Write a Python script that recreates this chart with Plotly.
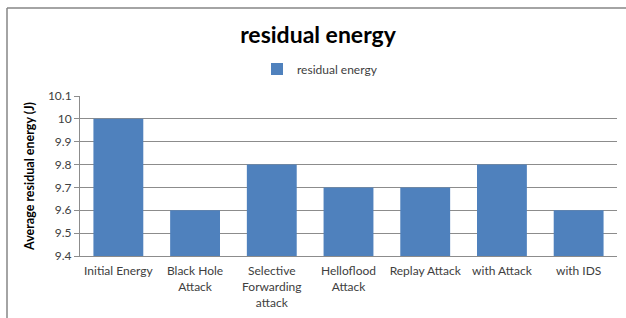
import plotly.graph_objects as go

categories = ["Initial Energy", "Black Hole<br>Attack", "Selective<br>Forwarding<br>attack",
              "Helloflood<br>Attack", "Replay Attack", "with Attack", "with IDS"]
values = [10.0, 9.6, 9.8, 9.7, 9.7, 9.8, 9.6]
series_name = "residual energy"
y_tickvals = [9.4, 9.5, 9.6, 9.7, 9.8, 9.9, 10.0, 10.1]
y_ticktext = ["9.4", "9.5", "9.6", "9.7", "9.8", "9.9", "10", "10.1"]

FONT = "Lato, 'Open Sans', sans-serif"
BAR = "#4F81BD"
GRID = "#8C8C8C"

fig = go.Figure()
fig.add_trace(go.Bar(x=categories, y=values, name=series_name,
                     marker=dict(color=BAR, line=dict(width=0)),
                     showlegend=True))

# plot area: left 80, right 617, top 96, bottom 256 (pixels)
W, H = 626, 318
L, R, T, B = 80, 617, 96, 256
pw, ph = R - L, B - T

def px(x):
    return (x - L) / pw

def py(y):
    return (B - y) / ph

fig.update_layout(
    width=W, height=H,
    margin=dict(l=L, r=W - R, t=T, b=H - B, pad=0, autoexpand=False),
    paper_bgcolor="white", plot_bgcolor="white",
    font=dict(family=FONT, size=12, color="#404040"),
    bargap=0.35,
    title=dict(text="<b>residual energy</b>", x=px(318), xref="paper", xanchor="center",
               y=1 - 35 / H, yref="container", yanchor="middle",
               font=dict(family=FONT, size=23, color="black")),
    showlegend=True,
    legend=dict(orientation="h", x=px(320), xanchor="center", y=py(69), yanchor="middle",
                font=dict(family=FONT, size=12, color="#404040"), itemwidth=30,
                bgcolor="rgba(0,0,0,0)"),
    xaxis=dict(showline=True, linecolor=GRID, linewidth=1, ticks="", showgrid=False,
               ticklabelstandoff=4,
               tickfont=dict(family=FONT, size=12, color="#404040"), fixedrange=True),
    yaxis=dict(range=[9.4, 10.1], tickvals=y_tickvals, ticktext=y_ticktext,
               showgrid=True, gridcolor=GRID, gridwidth=1,
               showline=True, linecolor=GRID, linewidth=1,
               ticks="outside", ticklen=5, tickcolor=GRID,
               tickfont=dict(family=FONT, size=12, color="#404040"),
               title=dict(text="<b>Average residual energy (J)</b>", standoff=10,
                          font=dict(family=FONT, size=12.5, color="black")),
               zeroline=False, fixedrange=True),
)

# outer chart border (left and top edges)
fig.add_shape(type="line", xref="paper", yref="paper",
              x0=px(7), x1=px(7), y0=py(8), y1=py(330),
              line=dict(color="#868686", width=1.5))
fig.add_shape(type="line", xref="paper", yref="paper",
              x0=px(7), x1=px(640), y0=py(8), y1=py(8),
              line=dict(color="#868686", width=1.5))

fig.write_html("out.html", config={"displayModeBar": False},
               post_script="document.body.style.margin='0';document.body.style.overflow='hidden';")
